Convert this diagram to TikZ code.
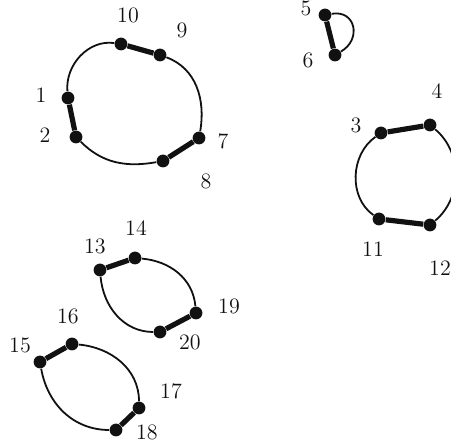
\documentclass[tikz,border=0pt]{standalone}
\usetikzlibrary{positioning}
\usepackage{xcolor}
\definecolor{Ink}{HTML}{111111}
\tikzset{
  dot/.style={circle, fill=Ink, inner sep=0pt, minimum size=6.4pt},
  pair/.style={line width=2.6pt, draw=Ink},
  link/.style={line width=0.9pt, draw=Ink},
  lab/.style={inner sep=0pt, text=Ink, font=\fontsize{11}{13}\selectfont}
}

\begin{document}
\begin{tikzpicture}[x=.5pt,y=.5pt]
\useasboundingbox (0,0) rectangle (451,444);
\foreach \n/\x/\y in {1/68/346,2/76/307,10/121/400,9/160/389,7/199/306,8/163/283,
  5/325/429,6/335/389,3/381/311,4/430/319,11/379/225,12/430/219,
  13/100/174,14/135/186,19/196/131,20/160/112,15/40/82,16/72/100,17/139/36,18/116/14}{\node[dot] (n\n) at (\x,\y) {};}
\foreach \n/\x/\y in {1/41/349,2/45/309,10/128/429,9/182/414,7/223/303,8/206/263,
  5/306/436,6/308/384,3/356/319,4/437/353,11/373/195,12/440/176,
  13/95/198,14/136/216,19/229/138,20/190/102,15/20/99,16/68/128,17/171/53,18/147/12}{\node[lab] (l\n) at (\x,\y) {\n};}
% thin arcs
\draw[link] (n10) to[out=172,in=95] (n1);
\draw[link] (n9) to[out=-20,in=80] (n7);
\draw[link] (n2) to[out=-45,in=190] (n8);
\draw[link] (n5) to[out=10,in=30,looseness=1.6] (n6);
\draw[link] (n3) to[out=215,in=145] (n11);
\draw[link] (n4) to[out=-40,in=40] (n12);
\draw[link] (n14) to[out=-5,in=95] (n19);
\draw[link] (n13) to[out=-85,in=180] (n20);
\draw[link] (n16) to[out=-5,in=90] (n17);
\draw[link] (n15) to[out=-80,in=180] (n18);
% thick pairs
\foreach \a/\b in {1/2,10/9,7/8,5/6,3/4,11/12,13/14,19/20,15/16,17/18}{\draw[pair] (n\a) -- (n\b);}
\end{tikzpicture}
\end{document}
